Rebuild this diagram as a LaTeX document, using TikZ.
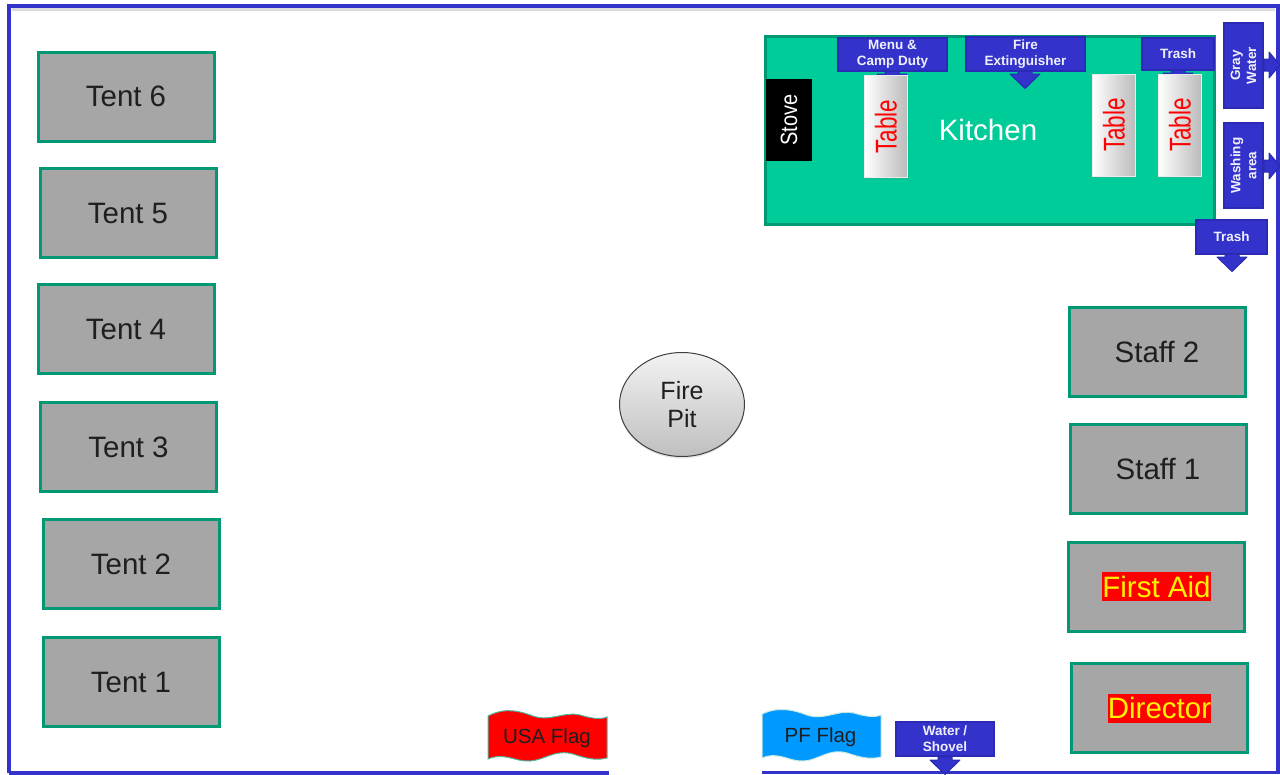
\documentclass[tikz,border=0pt]{standalone}
\usepackage{fontspec}
\setmainfont{Liberation Sans}
\usetikzlibrary{positioning, shapes.geometric, shadows}

\definecolor{campblue}{HTML}{3333CC}
\definecolor{campline}{HTML}{2A2AB4}
\definecolor{campgreen}{HTML}{00CC99}
\definecolor{campedge}{HTML}{009973}
\definecolor{campgray}{HTML}{A6A6A6}
\definecolor{flagblue}{HTML}{0099FF}

\tikzset{
    sitebox/.style={draw=campedge, fill=campgray, line width=3pt, minimum width=176pt, minimum height=89pt, text=black!88, font=\fontsize{29.5}{33}\selectfont},
    tablebox/.style={draw=white!92!black, line width=0.8pt, left color=white, right color=black!27, minimum width=43pt, minimum height=102pt, drop shadow={shadow xshift=0pt, shadow yshift=-1.5pt, opacity=0.25}},
    tablelabel/.style={text=red, rotate=90, inner sep=0pt, font=\fontsize{30}{34}\selectfont},
    tabbox/.style={draw=campline, fill=campblue, line width=2pt, text=white!92!campblue, align=center, inner sep=0pt, font=\bfseries\fontsize{13.5}{16}\selectfont},
    tabarrow/.style={draw=campline, fill=campblue, line width=1pt, line join=round},
    flagtext/.style={text=black!88, font=\fontsize{20.5}{24}\selectfont, inner sep=0pt},
    alertlabel/.style={fill=red, text=yellow, inner sep=0pt, minimum height=29pt, font=\fontsize{29.5}{33}\selectfont}
}

\begin{document}
\begin{tikzpicture}[x=1pt, y=-1pt]
    \useasboundingbox (0,0) rectangle (1280,774);

    % Outer boundary, open between the two flags
    \draw[line width=3pt, black!14] (12,9.5) -- (1275,9.5);
    \draw[line width=4.5pt, campblue] (9,773) -- (9,6) -- (1278,6) -- (1278,774);
    \draw[line width=3.5pt, campblue] (9,773) -- (609,773);
    \draw[line width=3.5pt, campblue] (762,772.5) -- (1278,772.5);

    % Tents and staff
    \foreach \nm/\cx/\cy/\txt in {tentsix/126/96.5/Tent 6, tentfive/128/213/Tent 5, tentfour/126/329/Tent 4,
        tentthree/128.5/447/Tent 3, tenttwo/131/564/Tent 2, tentone/131/682/Tent 1,
        stafftwo/1157/351.5/Staff 2, staffone/1158/468.5/Staff 1}
        \node[sitebox] (\nm) at (\cx,\cy) {\txt};
    \node[sitebox] (firstaid) at (1156.5,586.5) {};
    \node[alertlabel] (firstaidlabel) at (firstaid) {First Aid};
    \node[sitebox] (director) at (1159.5,708) {};
    \node[alertlabel] (directorlabel) at (director) {Director};

    % Fire pit
    \node[ellipse, draw=black!75, line width=1pt, top color=white!95!black, bottom color=black!25,
        minimum width=125pt, minimum height=104pt, align=center, inner sep=0pt, text=black!88, font=\fontsize{25}{28}\selectfont,
        drop shadow={shadow xshift=0pt, shadow yshift=-2pt, opacity=0.2}] (firepit) at (682,404.5) {Fire\\Pit};

    % Kitchen
    \node[draw=campedge, fill=campgreen, line width=3pt, minimum width=449pt, minimum height=188pt] (kitchen) at (990,130) {};
    \node[text=white, font=\fontsize{29.5}{34}\selectfont, inner sep=0pt] (kitchenlabel) at (988,130) {Kitchen};
    \node[fill=black, text=white, rotate=90, minimum width=82pt, minimum height=46pt, inner sep=0pt, font=\fontsize{23.5}{27}\selectfont] (stove) at (789,120) {\scalebox{0.85}[1]{Stove}};

    % Arrows under the signs
    \foreach \ax/\ay in {892/71, 1025/71, 1178/70, 1232/254, 945/757}
        \filldraw[tabarrow] (\ax-7,\ay) -- (\ax-7,\ay+3) -- (\ax-15,\ay+3) -- (\ax,\ay+17.5) -- (\ax+15,\ay+3) -- (\ax+7,\ay+3) -- (\ax+7,\ay) -- cycle;
    \foreach \ax/\ay in {1264/65, 1264/166}
        \filldraw[tabarrow] (\ax,\ay-6) -- (\ax+5,\ay-6) -- (\ax+5,\ay-13) -- (\ax+16,\ay) -- (\ax+5,\ay+13) -- (\ax+5,\ay+6) -- (\ax,\ay+6) -- cycle;

    % Tables
    \node[tablebox] (tableone) at (886,126.5) {};
    \node[tablebox] (tabletwo) at (1114,125) {};
    \node[tablebox] (tablethree) at (1180,125) {};
    \foreach \nm in {tableone, tabletwo, tablethree}
        \node[tablelabel] at (\nm) {\scalebox{0.75}[1]{Table}};

    % Signs
    \node[tabbox, minimum width=109pt, minimum height=33pt] (menu) at (892.5,54) {Menu \&\\Camp Duty};
    \node[tabbox, minimum width=119pt, minimum height=34pt] (extinguisher) at (1025.5,54) {Fire\\Extinguisher};
    \node[tabbox, minimum width=72pt, minimum height=32pt] (trashtop) at (1178,53.5) {Trash};
    \node[tabbox, minimum width=85pt, minimum height=39pt, rotate=90] (graywater) at (1243.5,65.5) {Gray\\Water};
    \node[tabbox, minimum width=85pt, minimum height=39pt, rotate=90] (washing) at (1243.5,165.5) {Washing\\area};
    \node[tabbox, minimum width=71pt, minimum height=34pt] (trashside) at (1231.5,236.5) {Trash};
    \node[tabbox, minimum width=98pt, minimum height=34pt] (water) at (945,738.5) {Water /\\Shovel};

    % Flags
    \filldraw[draw=campedge!70, fill=red, line width=1pt] (488,716) .. controls (505,707) and (520,711) .. (533,716) .. controls (550,722) and (565,711) .. (580,715) .. controls (590,718) and (600,720) .. (607,717)
        -- (607,758) .. controls (595,761) and (585,758) .. (573,754) .. controls (555,749) and (545,760) .. (530,761) .. controls (515,762) and (505,752) .. (488,759) -- cycle;
    \node[flagtext] (usaflag) at (547,738.5) {USA Flag};
    \filldraw[draw=white!80!campedge, fill=flagblue, line width=1pt] (762,714) .. controls (779,706) and (794,710) .. (807,715) .. controls (824,721) and (839,709) .. (854,713) .. controls (864,716) and (874,718) .. (881,715)
        -- (881,757) .. controls (869,760) and (859,757) .. (847,753) .. controls (829,748) and (819,760) .. (804,761) .. controls (789,762) and (779,751) .. (762,758) -- cycle;
    \node[flagtext] (pfflag) at (820.5,737) {PF Flag};
\end{tikzpicture}
\end{document}
